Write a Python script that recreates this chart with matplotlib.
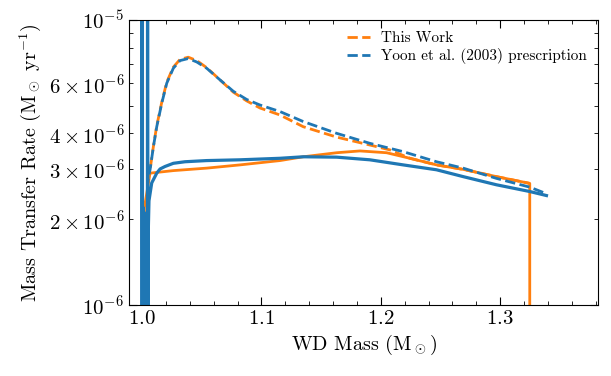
import numpy as np
import matplotlib
matplotlib.use("Agg")
import matplotlib.pyplot as plt
from matplotlib.lines import Line2D
from matplotlib.ticker import MultipleLocator

plt.rcParams['font.family'] = 'serif'
plt.rcParams['font.serif'] = ['cmr10']
plt.rcParams['mathtext.fontset'] = 'cm'
plt.rcParams['axes.formatter.use_mathtext'] = True
plt.rcParams['axes.unicode_minus'] = False

# "This Work": solid (actual evolution) and dashed (prescription)
work_mass = [1.0020, 1.0020, 1.0067, 1.0262, 1.0541, 1.0820, 1.1155, 1.1350, 1.1630,
             1.1824, 1.2048, 1.2243, 1.2466, 1.2689, 1.2968, 1.3247, 1.3247]
work_rate = [5e-7, 2.20e-6, 2.90e-6, 2.96e-6, 3.02e-6, 3.10e-6, 3.21e-6, 3.31e-6, 3.42e-6,
             3.47e-6, 3.42e-6, 3.27e-6, 3.10e-6, 2.99e-6, 2.82e-6, 2.67e-6, 5e-7]

work_pres_mass = [1.0045, 1.0067, 1.0095, 1.0123, 1.0165, 1.0207, 1.0262, 1.0318, 1.0387,
                  1.0458, 1.0541, 1.0653, 1.0764, 1.0876, 1.0987, 1.1155, 1.1350, 1.1630,
                  1.1908, 1.2075, 1.2243, 1.2466, 1.2689, 1.2968, 1.3247]
work_pres_rate = [2.70e-6, 2.98e-6, 3.60e-6, 4.25e-6, 5.14e-6, 6.05e-6, 6.83e-6, 7.27e-6, 7.40e-6,
                  7.20e-6, 6.80e-6, 6.16e-6, 5.58e-6, 5.20e-6, 4.91e-6, 4.64e-6, 4.22e-6, 3.88e-6,
                  3.64e-6, 3.50e-6, 3.27e-6, 3.10e-6, 2.99e-6, 2.82e-6, 2.67e-6]

# Yoon et al. (2003): solid (actual evolution) and dashed (prescription)
yoon_mass = [0.9999, 1.0001, 1.0003, 1.0004, 1.0008, 1.0012, 1.0016, 1.0020, 1.0024, 1.0028,
             1.0032, 1.0036, 1.0040, 1.0044, 1.0046, 1.0050, 1.0052, 1.0058, 1.0081, 1.0123,
             1.0151, 1.0192, 1.0262, 1.0360, 1.0541, 1.0820, 1.1155, 1.1350, 1.1630, 1.1908,
             1.2187, 1.2466, 1.2689, 1.2968, 1.3247, 1.3387]
yoon_rate = [2e-5, 5e-7, 2e-5, 5e-7, 2.2e-6, 5e-7, 2.1e-6, 5e-7, 2.1e-6, 5e-7,
             2.0e-6, 5e-7, 2.0e-6, 5e-7, 2e-5, 5e-7, 1.8e-6, 2.32e-6, 2.68e-6, 2.90e-6,
             3.00e-6, 3.06e-6, 3.14e-6, 3.18e-6, 3.21e-6, 3.23e-6, 3.27e-6, 3.31e-6, 3.30e-6, 3.23e-6,
             3.10e-6, 2.98e-6, 2.82e-6, 2.64e-6, 2.50e-6, 2.42e-6]

yoon_pres_mass = [1.0045, 1.0067, 1.0095, 1.0123, 1.0165, 1.0207, 1.0262, 1.0318, 1.0387,
                  1.0458, 1.0541, 1.0653, 1.0764, 1.0876, 1.0987, 1.1155, 1.1350, 1.1630,
                  1.1908, 1.2187, 1.2466, 1.2689, 1.2968, 1.3247, 1.3372]
yoon_pres_rate = [2.70e-6, 2.98e-6, 3.59e-6, 4.22e-6, 5.10e-6, 6.00e-6, 6.77e-6, 7.20e-6, 7.32e-6,
                  7.12e-6, 6.77e-6, 6.16e-6, 5.62e-6, 5.26e-6, 5.03e-6, 4.77e-6, 4.40e-6, 4.00e-6,
                  3.69e-6, 3.45e-6, 3.18e-6, 3.02e-6, 2.78e-6, 2.59e-6, 2.47e-6]

labels = ['This Work', 'Yoon et al. (2003) prescription']

orange = '#ff7f0e'
blue = '#1f77b4'

fig = plt.figure(figsize=(6.11, 3.76), dpi=100)
ax = fig.add_axes([0.211, 0.189, 0.768, 0.758])

ax.plot(work_mass, work_rate, color=orange, lw=2)
ax.plot(work_pres_mass, work_pres_rate, color=orange, lw=2, ls='--')
ax.plot(yoon_mass, yoon_rate, color=blue, lw=2.3)
# shifted dash phase so the two nearly identical dashed curves interleave
ax.plot(yoon_pres_mass, yoon_pres_rate, color=blue, lw=2, ls=(2.5, (3.7, 1.6)))

ax.set_yscale('log')
ax.set_ylim(1e-6, 1e-5)
ax.set_xlim(0.989, 1.382)
ax.xaxis.set_major_locator(MultipleLocator(0.1))
ax.xaxis.set_minor_locator(MultipleLocator(0.02))

ax.tick_params(which='both', direction='in', top=True, right=True, labelsize=15)
ax.tick_params(which='major', length=6)
ax.tick_params(which='minor', length=3)

ax.set_xlabel(r'WD Mass (M$_\odot$)', fontsize=14.5)
ax.set_ylabel(r'Mass Transfer Rate (M$_\odot$ yr$^{-1}$)', fontsize=14.5)

handles = [Line2D([], [], color=orange, lw=2, ls='--'),
           Line2D([], [], color=blue, lw=2, ls='--')]
ax.legend(handles, labels, loc='upper right', frameon=False, fontsize=11, handlelength=1.5,
          handletextpad=0.7, labelspacing=0.2, borderaxespad=0.35)

fig.savefig('out.png', dpi=100)
